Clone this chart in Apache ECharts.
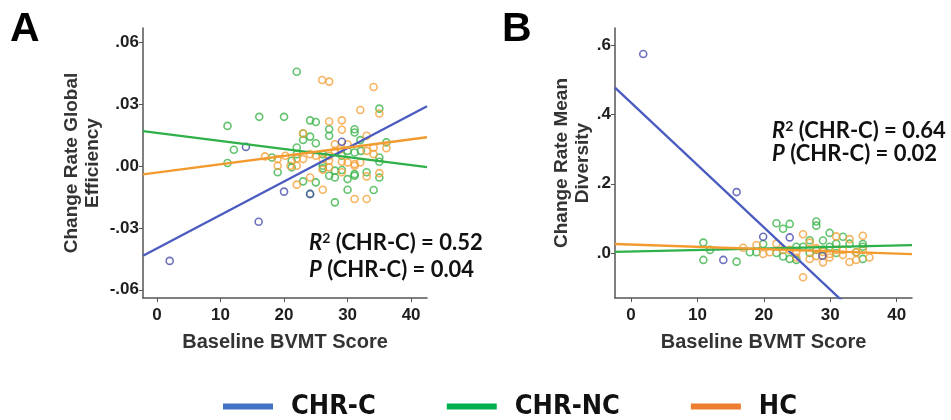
<!DOCTYPE html>
<html>
<head>
<meta charset="utf-8">
<script src="https://cdn.jsdelivr.net/npm/echarts@6/dist/echarts.min.js"></script>
<style>
html,body{margin:0;padding:0;background:#fff;}
#chart{width:951px;height:420px;}
</style>
</head>
<body>
<div id="chart"></div>
<script>
// ---------- Data ----------
const groups = ['CHR-C', 'CHR-NC', 'HC'];

// Panel A: Baseline BVMT score vs change rate global efficiency
const ptsA_CHRC = [[2.0,-0.046],[16.0,-0.027],[14.0,0.0093],[20.0,-0.0124],[24.1,-0.0135],[29.1,0.0118]];
const ptsA_CHRNC = [[22.0,0.0458],[11.1,0.0195],[16.1,0.0239],[20.0,0.0239],[12.1,0.0079],[11.1,0.0015],
  [24.1,0.0222],[25.0,0.0214],[23.0,0.0158],[24.1,0.0143],[23.0,0.0127],[25.0,0.0111],[22.0,0.009],
  [22.0,0.0058],[18.1,0.0042],[21.2,0.0026],[21.2,-0.0006],[19.0,-0.003],[23.0,-0.0074],[25.0,-0.0079],
  [24.1,-0.0135],[27.1,0.0179],[27.1,0.0147],[26.1,0.0002],[26.1,-0.0011],[27.1,-0.0047],[28.0,-0.0022],
  [28.0,-0.0055],[28.0,-0.0176],[29.1,-0.0019],[29.1,0.005],[30.0,0.0074],[30.0,-0.0063],[30.0,-0.0115],
  [31.1,0.0179],[31.1,0.0163],[31.1,0.0066],[31.1,-0.0039],[31.1,-0.0047],[32.0,0.0126],[32.1,0.0074],
  [33.0,-0.003],[34.1,-0.0116],[35.0,0.0279],[35.0,0.0042],[35.0,-0.0055],[35.0,0.0021],[36.1,0.0115],
  [26.1,0.0058]];
const ptsA_HC = [[26.0,0.0418],[27.1,0.041],[34.1,0.0384],[32.0,0.0272],[35.0,0.0255],[23.0,0.0158],
  [27.1,0.0216],[29.1,0.0222],[29.1,0.0176],[33.0,0.0147],[17.0,0.0047],[20.2,0.005],[19.0,0.0002],
  [22.0,0.0037],[21.0,0.0002],[22.0,0.0002],[19.0,0.0034],[24.1,0.0058],[25.0,0.005],[27.1,0.005],
  [27.1,0.0026],[26.1,0.0034],[28.0,0.0106],[28.0,0.0074],[28.9,0.0082],[30.0,0.0106],[30.0,0.0018],
  [31.1,0.001],[31.1,0.0002],[32.0,0.0018],[33.0,0.0074],[34.1,0.009],[34.1,0.0058],[36.1,0.0087],
  [35.0,-0.0034],[33.0,-0.005],[26.1,-0.0018],[27.1,-0.0006],[29.1,0.0021],[24.1,-0.0055],[22.0,-0.009],
  [26.1,-0.0115],[31.1,-0.016],[33.0,-0.016],[29.1,-0.003],[23.0,0.0034]];
// Panel A fitted regression lines (endpoints)
const fitA_CHRC = [[-2.2,-0.0435],[42.5,0.029]];
const fitA_CHRNC = [[-2.2,0.017],[42.5,-0.0005]];
const fitA_HC = [[-2.2,-0.004],[42.5,0.014]];

// Panel B: Baseline BVMT score vs change rate mean diversity
const ptsB_CHRC = [[1.85,0.575],[15.9,0.176],[13.9,-0.02],[19.9,0.047],[23.9,0.045],[28.8,-0.008]];
const ptsB_CHRNC = [[10.9,0.03],[10.9,-0.02],[11.9,0.009],[15.9,-0.025],[17.9,0.002],[18.9,0.002],
  [19.9,0.026],[21.9,0.086],[22.9,0.07],[23.9,0.084],[21.9,0.0],[22.9,-0.01],[23.9,-0.017],[24.9,-0.02],
  [25.9,0.018],[26.9,0.037],[27.9,0.091],[27.9,0.079],[27.9,0.009],[28.9,0.036],[29.9,0.058],[29.9,0.018],
  [30.9,0.027],[30.9,0.0],[31.9,0.047],[32.9,0.027],[33.9,0.002],[34.9,0.026],[34.9,-0.017],[34.9,0.018],
  [24.9,0.018],[26.9,0.0],[28.9,0.01]];
const ptsB_HC = [[16.9,0.015],[18.9,0.023],[19.9,-0.003],[20.9,0.002],[21.9,0.027],[22.9,0.009],
  [25.9,0.054],[25.9,-0.07],[26.9,0.03],[26.9,-0.017],[27.9,0.014],[28.9,-0.027],[29.9,-0.003],
  [29.9,-0.013],[30.9,0.048],[30.9,0.009],[31.9,-0.006],[32.9,0.04],[32.9,-0.026],[33.9,-0.02],
  [34.9,0.05],[34.9,0.009],[35.9,-0.013],[23.9,0.009],[24.9,0.002],[28.9,0.003],[31.9,0.009],
  [33.9,0.002],[27.9,-0.009],[24.9,-0.013]];
const fitB_CHRC = [[-2.4,0.478],[33.0,-0.16]];
const fitB_CHRNC = [[-2.4,0.003],[42.3,0.023]];
const fitB_HC = [[-2.4,0.026],[42.3,-0.003]];

// Tick labels
const xTicks = [0, 10, 20, 30, 40];
const yTicksA = [-0.06, -0.03, 0, 0.03, 0.06];
const yTicksB = [0, 0.2, 0.4, 0.6];
const annotA = ['0.52', '0.04'];
const annotB = ['0.64', '0.02'];

// ---------- Styles ----------
const pointColors = ['#4a4fae', '#3cb44b', '#f4a13a'];
const lineColors = ['#4a5bbf', '#2eb04a', '#f39a2e'];
const legendColors = ['#4472c4', '#00b050', '#ed7d31'];
const axisColor = '#555';
const tickFont = {fontFamily: 'Liberation Sans, Arial, sans-serif', fontWeight: 'bold', fontSize: 17, color: '#1e1e1e'};
const nameFont = {fontFamily: 'Liberation Sans, Arial, sans-serif', fontWeight: 'bold', fontSize: 19, color: '#333', lineHeight: 21};

function fmtA(v) {
  const s = Math.abs(v).toFixed(2).replace(/^0/, '');
  return (v < -1e-9 ? '-' : '') + s;
}
function fmtB(v) {
  return Math.abs(v).toFixed(1).replace(/^0/, '');
}

function xAxis(gridIndex, min, max) {
  return {
    type: 'value', gridIndex, min, max,
    name: 'Baseline BVMT Score', nameLocation: 'middle', nameGap: 34,
    nameTextStyle: Object.assign({}, nameFont, {fontSize: 20}),
    axisLine: {show: true, onZero: false, lineStyle: {color: axisColor, width: 1.5}},
    axisTick: {show: true, length: 4, lineStyle: {color: axisColor}, customValues: xTicks},
    axisLabel: Object.assign({margin: 9, customValues: xTicks}, tickFont),
    splitLine: {show: false}
  };
}
function yAxis(gridIndex, min, max, ticks, fmt, name, gap) {
  return {
    type: 'value', gridIndex, min, max,
    name, nameLocation: 'middle', nameGap: gap, nameRotate: 90,
    nameTextStyle: nameFont,
    axisLine: {show: true, onZero: false, lineStyle: {color: axisColor, width: 1.5}},
    axisTick: {show: true, length: 4, lineStyle: {color: axisColor}, customValues: ticks},
    axisLabel: Object.assign({margin: 4, customValues: ticks, formatter: fmt}, tickFont),
    splitLine: {show: false}
  };
}

function scatter(name, data, idx, ci) {
  return {
    type: 'scatter', name, data, xAxisIndex: idx, yAxisIndex: idx,
    symbol: 'circle', symbolSize: 7, z: 2,
    itemStyle: {color: 'rgba(255,255,255,0)', borderColor: pointColors[ci], borderWidth: 1.6},
    emphasis: {disabled: true}
  };
}
function fit(name, data, idx, ci) {
  return {
    type: 'line', name, data, xAxisIndex: idx, yAxisIndex: idx,
    showSymbol: false, symbol: 'none', clip: true, z: 3,
    lineStyle: {color: lineColors[ci], width: 2.3},
    itemStyle: {color: legendColors[ci]}
  };
}

function annot(left, top, gapY, vals) {
  const ff = 'Lato, Open Sans, sans-serif';
  const rich = {
    i: {fontFamily: ff, fontWeight: 'bold', fontStyle: 'italic', fontSize: 22, lineHeight: 24, fill: '#111'},
    s: {fontFamily: ff, fontWeight: 'bold', fontSize: 14, lineHeight: 14, verticalAlign: 'top', fill: '#111'},
    n: {fontFamily: ff, fontWeight: 'bold', fontSize: 22, lineHeight: 24, fill: '#111'}
  };
  return [
    {type: 'text', left, top, style: {text: '{i|R}{s|2}{n| (CHR-C) = ' + vals[0] + '}', rich}},
    {type: 'text', left, top: top + gapY, style: {text: '{i|P}{n| (CHR-C) = ' + vals[1] + '}', rich}}
  ];
}

const chart = echarts.init(document.getElementById('chart'));
chart.setOption({
  backgroundColor: '#fff',
  animation: false,
  grid: [
    {left: 143, top: 28, width: 284, height: 270, outerBoundsMode: 'none'},
    {left: 615, top: 28, width: 297, height: 270, outerBoundsMode: 'none'}
  ],
  xAxis: [xAxis(0, -2.2, 42.5), xAxis(1, -2.4, 42.3)],
  yAxis: [
    yAxis(0, -0.064, 0.067, yTicksA, fmtA, 'Change Rate Global\nEfficiency', 40),
    yAxis(1, -0.13, 0.65, yTicksB, fmtB, 'Change Rate Mean\nDiversity', 14)
  ],
  legend: {
    left: 218, top: 388, itemWidth: 50, itemHeight: 6, itemGap: 71, icon: 'rect',
    selectedMode: false,
    itemStyle: {borderWidth: 0, opacity: 1},
    lineStyle: {width: 0},
    textStyle: {fontFamily: 'Liberation Sans Narrow, DejaVu Sans Condensed, sans-serif', fontWeight: 'bold', fontSize: 27, color: '#111', padding: [0, 0, 0, 13]},
    data: groups.map((g, i) => ({name: g, icon: 'rect', itemStyle: {color: legendColors[i], borderWidth: 0, opacity: 1}}))
  },
  graphic: [
    {type: 'text', left: 10, top: 9, style: {text: 'A', fontFamily: 'Liberation Sans, Arial, sans-serif', fontWeight: 'bold', fontSize: 41, fill: '#000'}},
    {type: 'text', left: 502, top: 9, style: {text: 'B', fontFamily: 'Liberation Sans, Arial, sans-serif', fontWeight: 'bold', fontSize: 41, fill: '#000'}}
  ].concat(annot(309, 231, 28, annotA), annot(772, 119, 24, annotB)),
  series: [
    fit('CHR-C', fitA_CHRC, 0, 0),
    fit('CHR-NC', fitA_CHRNC, 0, 1),
    fit('HC', fitA_HC, 0, 2),
    scatter('CHR-NC', ptsA_CHRNC, 0, 1),
    scatter('HC', ptsA_HC, 0, 2),
    scatter('CHR-C', ptsA_CHRC, 0, 0),
    fit('CHR-C', fitB_CHRC, 1, 0),
    fit('CHR-NC', fitB_CHRNC, 1, 1),
    fit('HC', fitB_HC, 1, 2),
    scatter('CHR-NC', ptsB_CHRNC, 1, 1),
    scatter('HC', ptsB_HC, 1, 2),
    scatter('CHR-C', ptsB_CHRC, 1, 0)
  ]
});
</script>
</body>
</html>
